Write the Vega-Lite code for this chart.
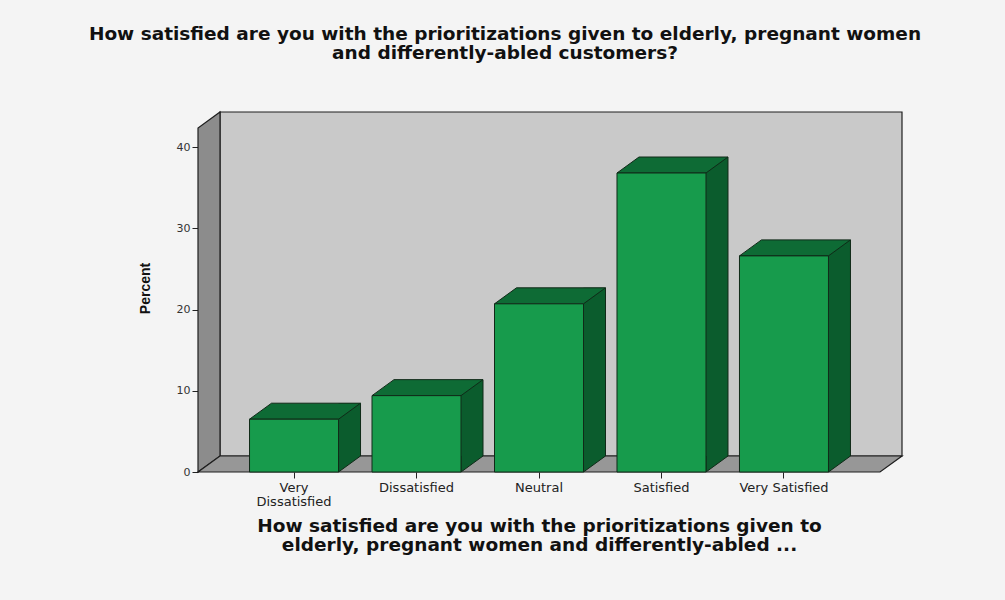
{
  "$schema": "https://vega.github.io/schema/vega-lite/v6.json",
  "width": 682,
  "height": 344,
  "autosize": {"type": "none"},
  "padding": {"left": 198, "top": 128, "right": 125, "bottom": 128},
  "background": "#f4f4f4",
  "title": {
    "text": ["How satisfied are you with the prioritizations given to elderly, pregnant women", "and differently-abled customers?"],
    "anchor": "middle",
    "frame": "group",
    "dx": -34,
    "offset": 47,
    "font": "DejaVu Sans",
    "fontSize": 18.5,
    "fontWeight": "bold",
    "color": "#111111",
    "lineHeight": 19
  },
  "config": {
    "view": {"stroke": null},
    "axis": {"grid": false}
  },
  "datasets": {
    "responses": [
      {"rating": "Very Dissatisfied", "percent": 6.5},
      {"rating": "Dissatisfied", "percent": 9.4},
      {"rating": "Neutral", "percent": 20.7},
      {"rating": "Satisfied", "percent": 36.8},
      {"rating": "Very Satisfied", "percent": 26.6}
    ]
  },
  "layer": [
    {
      "description": "back wall of the 3-D frame",
      "data": {"values": [{"panel": "back wall"}]},
      "mark": {"type": "point", "shape": "M -319 156 L -319 -188 L 363 -188 L 363 156 Z", "size": 4, "filled": true, "opacity": 1, "fill": "#c9c9c9", "stroke": "#1e1e1e", "strokeWidth": 1.2},
      "encoding": {}
    },
    {
      "description": "left side wall",
      "data": {"values": [{"panel": "side wall"}]},
      "mark": {"type": "point", "shape": "M -341 172 L -341 -172 L -319 -188 L -319 156 Z", "size": 4, "filled": true, "opacity": 1, "fill": "#8c8c8c", "stroke": "#1e1e1e", "strokeWidth": 1.2},
      "encoding": {}
    },
    {
      "description": "floor",
      "data": {"values": [{"panel": "floor"}]},
      "mark": {"type": "point", "shape": "M -341 172 L -319 156 L 363 156 L 341 172 Z", "size": 4, "filled": true, "opacity": 1, "fill": "#979797", "stroke": "#1e1e1e", "strokeWidth": 1.2},
      "encoding": {}
    },
    {
      "description": "right-hand side face of each bar",
      "data": {"name": "responses"},
      "mark": {"type": "bar", "size": 22, "xOffset": 55.5, "yOffset": -16, "y2Offset": -16, "fill": "#0b5c2d", "stroke": null},
      "encoding": {
        "x": {"field": "rating", "type": "nominal", "scale": {"type": "band", "domain": ["Very Dissatisfied", "Dissatisfied", "Neutral", "Satisfied", "Very Satisfied"], "paddingInner": 0, "paddingOuter": 0.284}, "axis": {"labelExpr": "datum.value == 'Very Dissatisfied' ? ['Very', 'Dissatisfied'] : datum.value", "labelAngle": 0, "labelFont": "DejaVu Sans", "labelFontSize": 13, "labelColor": "#222222", "labelLineHeight": 14, "labelPadding": 3, "tickSize": 6, "tickColor": "#222222", "domain": false, "titleFont": "DejaVu Sans", "titleFontSize": 18.5, "titleFontWeight": "bold", "titleColor": "#111111", "titleLineHeight": 19, "titlePadding": 8}, "title": ["How satisfied are you with the prioritizations given to", "elderly, pregnant women and differently-abled ..."]},
        "y": {"field": "percent", "type": "quantitative", "scale": {"domain": [0, 42.34], "nice": false, "zero": true}, "axis": {"values": [0, 10, 20, 30, 40], "labelFont": "DejaVu Sans", "labelFontSize": 11, "labelColor": "#333333", "labelPadding": 2, "tickSize": 6, "tickColor": "#222222", "domain": false, "titleFont": "Liberation Sans", "titleFontSize": 14, "titleFontWeight": "bold", "titleColor": "#111111", "titlePadding": 24, "titleY": 160}, "title": "Percent"},
        "y2": {"datum": 0}
      }
    },
    {
      "description": "lower corner of each side face where it meets the floor",
      "data": {"name": "responses"},
      "mark": {"type": "point", "shape": "M 66.5 -16 L 44.5 0 L 44.5 -16", "size": 4, "filled": true, "opacity": 1, "fill": "#0b5c2d", "stroke": "#102a18", "strokeWidth": 1},
      "encoding": {
        "x": {"field": "rating", "type": "nominal", "scale": {"type": "band", "domain": ["Very Dissatisfied", "Dissatisfied", "Neutral", "Satisfied", "Very Satisfied"], "paddingInner": 0, "paddingOuter": 0.284}, "axis": {"labelExpr": "datum.value == 'Very Dissatisfied' ? ['Very', 'Dissatisfied'] : datum.value", "labelAngle": 0, "labelFont": "DejaVu Sans", "labelFontSize": 13, "labelColor": "#222222", "labelLineHeight": 14, "labelPadding": 3, "tickSize": 6, "tickColor": "#222222", "domain": false, "titleFont": "DejaVu Sans", "titleFontSize": 18.5, "titleFontWeight": "bold", "titleColor": "#111111", "titleLineHeight": 19, "titlePadding": 8}, "title": ["How satisfied are you with the prioritizations given to", "elderly, pregnant women and differently-abled ..."]},
        "y": {"datum": 0, "type": "quantitative", "scale": {"domain": [0, 42.34], "nice": false, "zero": true}, "axis": {"values": [0, 10, 20, 30, 40], "labelFont": "DejaVu Sans", "labelFontSize": 11, "labelColor": "#333333", "labelPadding": 2, "tickSize": 6, "tickColor": "#222222", "domain": false, "titleFont": "Liberation Sans", "titleFontSize": 14, "titleFontWeight": "bold", "titleColor": "#111111", "titlePadding": 24, "titleY": 160}, "title": "Percent"}
      }
    },
    {
      "description": "top face of each bar",
      "data": {"name": "responses"},
      "mark": {"type": "point", "shape": "M -44.5 0 L -22.5 -16 L 66.5 -16 L 44.5 0 Z", "size": 4, "filled": true, "opacity": 1, "fill": "#0e6b35", "stroke": "#102a18", "strokeWidth": 1},
      "encoding": {
        "x": {"field": "rating", "type": "nominal", "scale": {"type": "band", "domain": ["Very Dissatisfied", "Dissatisfied", "Neutral", "Satisfied", "Very Satisfied"], "paddingInner": 0, "paddingOuter": 0.284}, "axis": {"labelExpr": "datum.value == 'Very Dissatisfied' ? ['Very', 'Dissatisfied'] : datum.value", "labelAngle": 0, "labelFont": "DejaVu Sans", "labelFontSize": 13, "labelColor": "#222222", "labelLineHeight": 14, "labelPadding": 3, "tickSize": 6, "tickColor": "#222222", "domain": false, "titleFont": "DejaVu Sans", "titleFontSize": 18.5, "titleFontWeight": "bold", "titleColor": "#111111", "titleLineHeight": 19, "titlePadding": 8}, "title": ["How satisfied are you with the prioritizations given to", "elderly, pregnant women and differently-abled ..."]},
        "y": {"field": "percent", "type": "quantitative", "scale": {"domain": [0, 42.34], "nice": false, "zero": true}, "axis": {"values": [0, 10, 20, 30, 40], "labelFont": "DejaVu Sans", "labelFontSize": 11, "labelColor": "#333333", "labelPadding": 2, "tickSize": 6, "tickColor": "#222222", "domain": false, "titleFont": "Liberation Sans", "titleFontSize": 14, "titleFontWeight": "bold", "titleColor": "#111111", "titlePadding": 24, "titleY": 160}, "title": "Percent"}
      }
    },
    {
      "description": "back vertical edge of each bar",
      "data": {"name": "responses"},
      "mark": {"type": "rule", "xOffset": 66.5, "yOffset": -16, "y2Offset": -16, "stroke": "#102a18", "strokeWidth": 1},
      "encoding": {
        "x": {"field": "rating", "type": "nominal", "scale": {"type": "band", "domain": ["Very Dissatisfied", "Dissatisfied", "Neutral", "Satisfied", "Very Satisfied"], "paddingInner": 0, "paddingOuter": 0.284}, "axis": {"labelExpr": "datum.value == 'Very Dissatisfied' ? ['Very', 'Dissatisfied'] : datum.value", "labelAngle": 0, "labelFont": "DejaVu Sans", "labelFontSize": 13, "labelColor": "#222222", "labelLineHeight": 14, "labelPadding": 3, "tickSize": 6, "tickColor": "#222222", "domain": false, "titleFont": "DejaVu Sans", "titleFontSize": 18.5, "titleFontWeight": "bold", "titleColor": "#111111", "titleLineHeight": 19, "titlePadding": 8}, "title": ["How satisfied are you with the prioritizations given to", "elderly, pregnant women and differently-abled ..."]},
        "y": {"field": "percent", "type": "quantitative", "scale": {"domain": [0, 42.34], "nice": false, "zero": true}, "axis": {"values": [0, 10, 20, 30, 40], "labelFont": "DejaVu Sans", "labelFontSize": 11, "labelColor": "#333333", "labelPadding": 2, "tickSize": 6, "tickColor": "#222222", "domain": false, "titleFont": "Liberation Sans", "titleFontSize": 14, "titleFontWeight": "bold", "titleColor": "#111111", "titlePadding": 24, "titleY": 160}, "title": "Percent"},
        "y2": {"datum": 0}
      }
    },
    {
      "description": "front face of each bar",
      "data": {"name": "responses"},
      "mark": {"type": "bar", "size": 89, "fill": "#179b4c", "stroke": "#102a18", "strokeWidth": 1},
      "encoding": {
        "x": {"field": "rating", "type": "nominal", "scale": {"type": "band", "domain": ["Very Dissatisfied", "Dissatisfied", "Neutral", "Satisfied", "Very Satisfied"], "paddingInner": 0, "paddingOuter": 0.284}, "axis": {"labelExpr": "datum.value == 'Very Dissatisfied' ? ['Very', 'Dissatisfied'] : datum.value", "labelAngle": 0, "labelFont": "DejaVu Sans", "labelFontSize": 13, "labelColor": "#222222", "labelLineHeight": 14, "labelPadding": 3, "tickSize": 6, "tickColor": "#222222", "domain": false, "titleFont": "DejaVu Sans", "titleFontSize": 18.5, "titleFontWeight": "bold", "titleColor": "#111111", "titleLineHeight": 19, "titlePadding": 8}, "title": ["How satisfied are you with the prioritizations given to", "elderly, pregnant women and differently-abled ..."]},
        "y": {"field": "percent", "type": "quantitative", "scale": {"domain": [0, 42.34], "nice": false, "zero": true}, "axis": {"values": [0, 10, 20, 30, 40], "labelFont": "DejaVu Sans", "labelFontSize": 11, "labelColor": "#333333", "labelPadding": 2, "tickSize": 6, "tickColor": "#222222", "domain": false, "titleFont": "Liberation Sans", "titleFontSize": 14, "titleFontWeight": "bold", "titleColor": "#111111", "titlePadding": 24, "titleY": 160}, "title": "Percent"},
        "y2": {"datum": 0}
      }
    }
  ]
}
